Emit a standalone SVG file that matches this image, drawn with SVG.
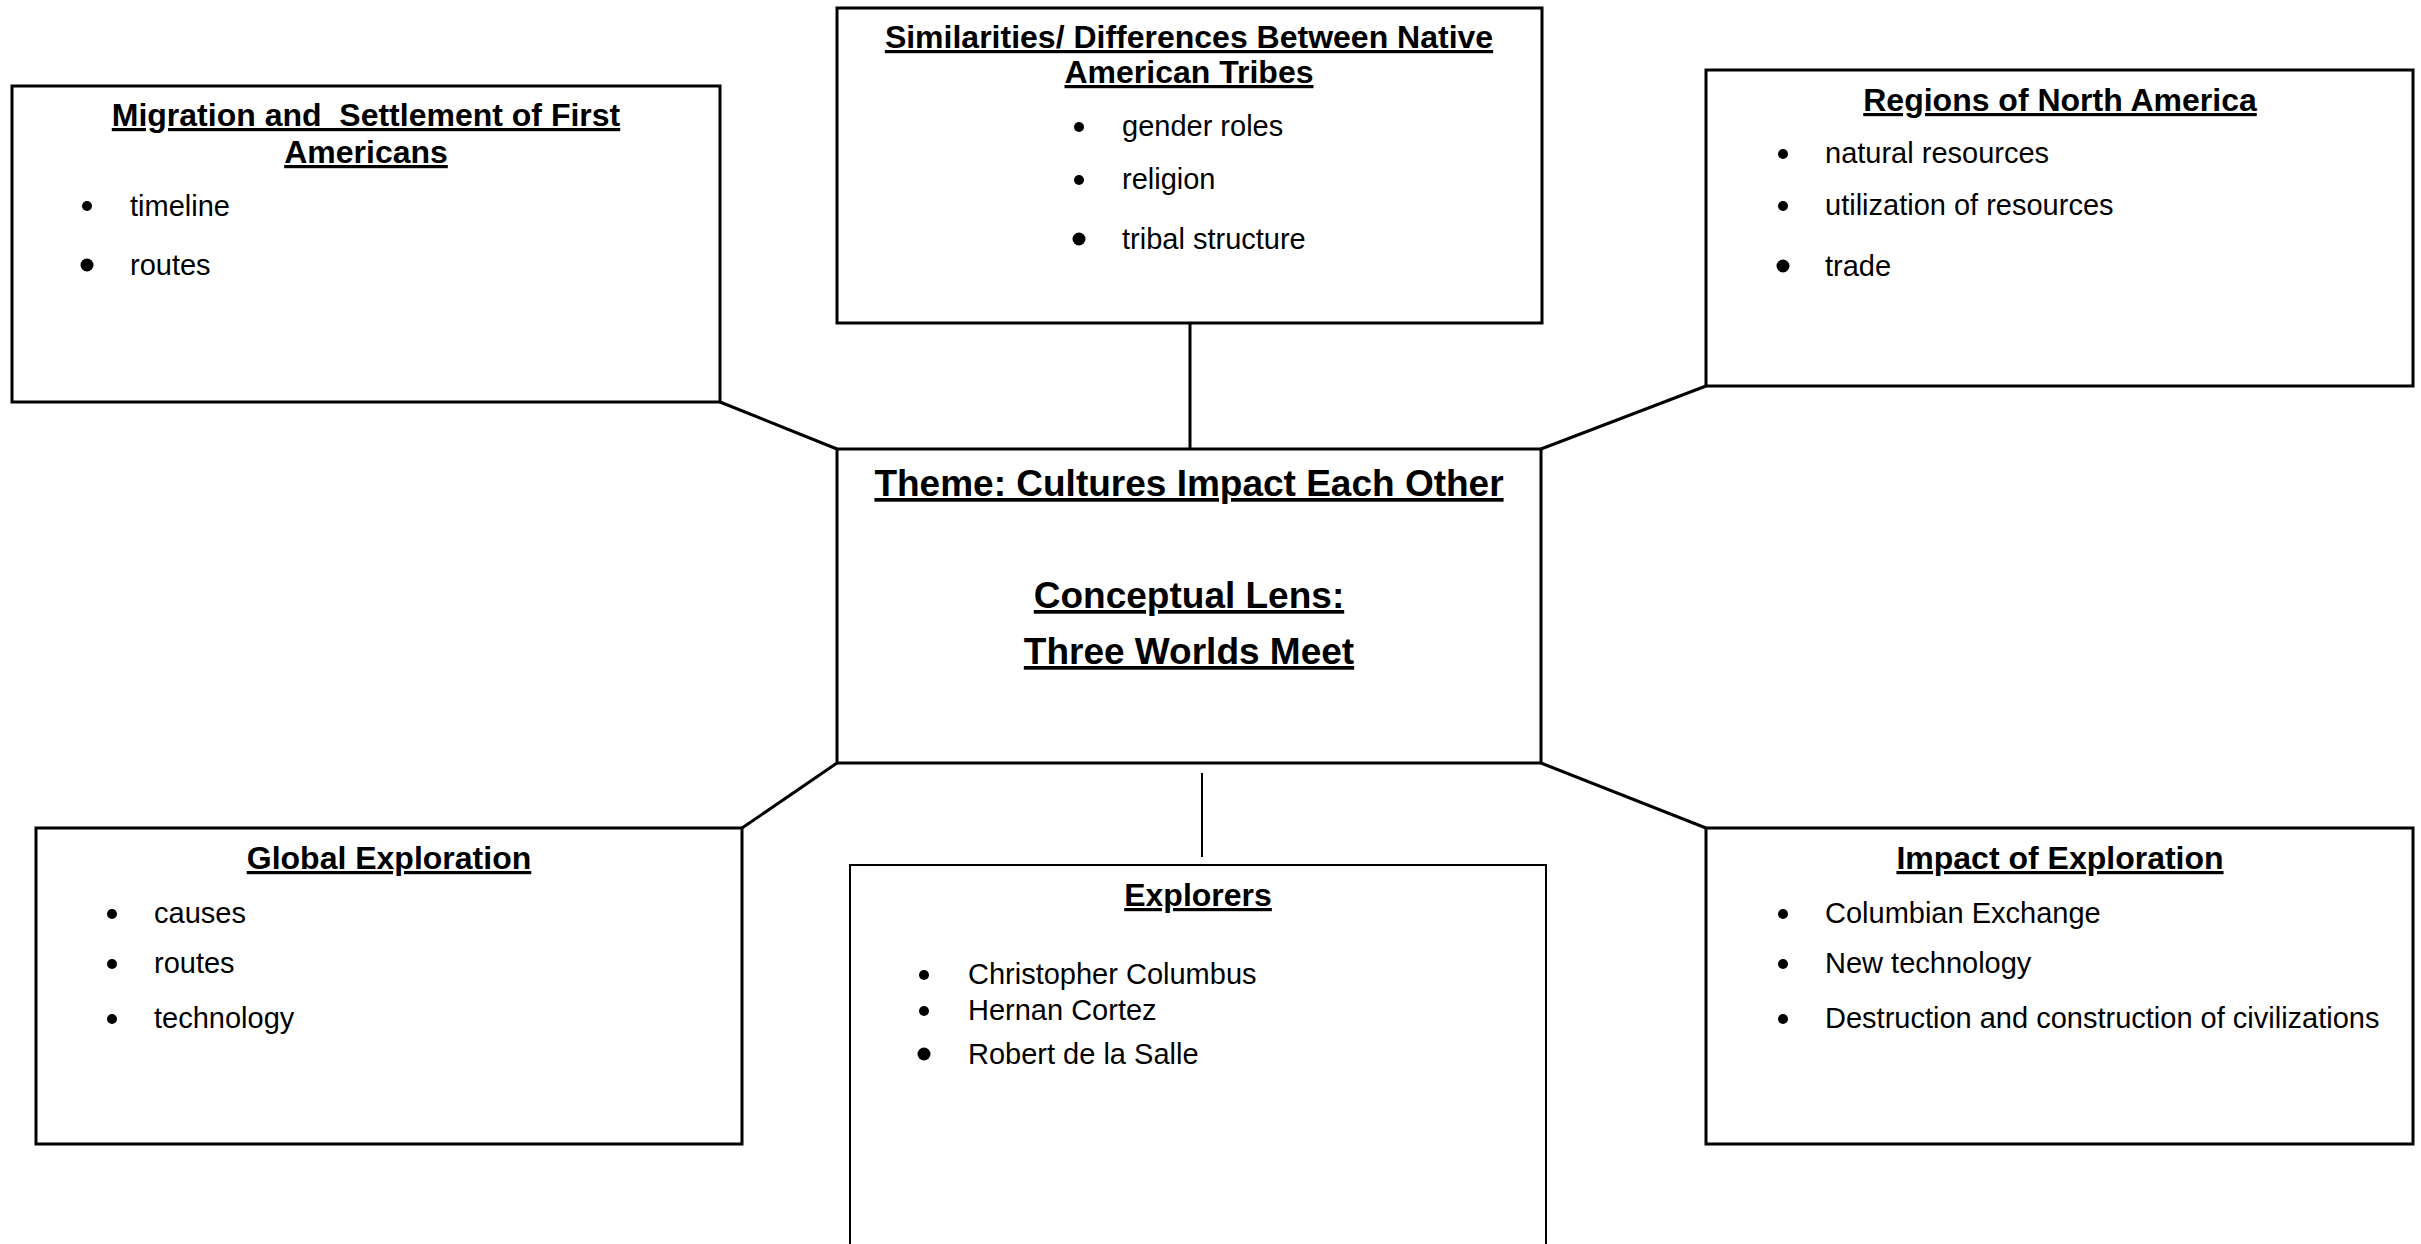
<svg xmlns="http://www.w3.org/2000/svg" width="2421" height="1244" viewBox="0 0 2421 1244">
  <style>
    .box { fill: #ffffff; stroke: #000000; stroke-width: 3; }
    .box-thin { fill: #ffffff; stroke: #000000; stroke-width: 2; }
    .link { stroke: #000000; stroke-width: 3; fill: none; }
    .link-thin { stroke: #000000; stroke-width: 2; fill: none; }
    text { white-space: pre; }
    .title { font-family: "Liberation Sans", Arial, sans-serif; font-weight: bold; font-size: 32px; text-anchor: middle; text-decoration: underline; fill: #000; }
    .theme { font-family: "Liberation Sans", Arial, sans-serif; font-weight: bold; font-size: 37px; text-anchor: middle; text-decoration: underline; fill: #000; }
    .item { font-family: "Liberation Sans", Arial, sans-serif; font-size: 29px; fill: #000; }
    .dot { fill: #000; }
  </style>
  <rect width="2421" height="1244" fill="#ffffff"/>

  <!-- connectors between the theme box and the topic boxes -->
  <g id="connectors">
    <line class="link" x1="720" y1="402" x2="837" y2="449"/>
    <line class="link" x1="1190" y1="323" x2="1190" y2="449"/>
    <line class="link" x1="1706" y1="386" x2="1541" y2="449"/>
    <line class="link" x1="837" y1="763" x2="742" y2="828"/>
    <line class="link" x1="1541" y1="763" x2="1706" y2="828"/>
    <line class="link-thin" x1="1202" y1="773" x2="1202" y2="857"/>
  </g>

  <g id="migration">
    <rect class="box" x="12" y="86" width="708" height="316"/>
    <text class="title" x="366" y="126" xml:space="preserve">Migration and  Settlement of First</text>
    <text class="title" x="366" y="163">Americans</text>
    <circle class="dot" cx="87" cy="206" r="5"/>
    <text class="item" x="130" y="216">timeline</text>
    <circle class="dot" cx="87" cy="265" r="6.5"/>
    <text class="item" x="130" y="275">routes</text>
  </g>

  <g id="similarities">
    <rect class="box" x="837" y="8" width="705" height="315"/>
    <text class="title" x="1189" y="48">Similarities/ Differences Between Native</text>
    <text class="title" x="1189" y="83">American Tribes</text>
    <circle class="dot" cx="1079" cy="127" r="5"/>
    <text class="item" x="1122" y="136">gender roles</text>
    <circle class="dot" cx="1079" cy="180" r="5"/>
    <text class="item" x="1122" y="189">religion</text>
    <circle class="dot" cx="1079" cy="239" r="6.5"/>
    <text class="item" x="1122" y="249">tribal structure</text>
  </g>

  <g id="regions">
    <rect class="box" x="1706" y="70" width="707" height="316"/>
    <text class="title" x="2060" y="111">Regions of North America</text>
    <circle class="dot" cx="1783" cy="154" r="5"/>
    <text class="item" x="1825" y="163">natural resources</text>
    <circle class="dot" cx="1783" cy="206" r="5"/>
    <text class="item" x="1825" y="215">utilization of resources</text>
    <circle class="dot" cx="1783" cy="266" r="6.5"/>
    <text class="item" x="1825" y="276">trade</text>
  </g>

  <g id="theme">
    <rect class="box" x="837" y="449" width="704" height="314"/>
    <text class="theme" x="1189" y="496">Theme: Cultures Impact Each Other</text>
    <text class="theme" x="1189" y="608">Conceptual Lens:</text>
    <text class="theme" x="1189" y="664">Three Worlds Meet</text>
  </g>

  <g id="global-exploration">
    <rect class="box" x="36" y="828" width="706" height="316"/>
    <text class="title" x="389" y="869">Global Exploration</text>
    <circle class="dot" cx="112" cy="914" r="5"/>
    <text class="item" x="154" y="923">causes</text>
    <circle class="dot" cx="112" cy="964" r="5"/>
    <text class="item" x="154" y="973">routes</text>
    <circle class="dot" cx="112" cy="1019" r="5"/>
    <text class="item" x="154" y="1028">technology</text>
  </g>

  <g id="explorers">
    <rect class="box-thin" x="850" y="865" width="696" height="400"/>
    <text class="title" x="1198" y="906">Explorers</text>
    <circle class="dot" cx="924" cy="975" r="5"/>
    <text class="item" x="968" y="984">Christopher Columbus</text>
    <circle class="dot" cx="924" cy="1011" r="5"/>
    <text class="item" x="968" y="1020">Hernan Cortez</text>
    <circle class="dot" cx="924" cy="1054" r="6.5"/>
    <text class="item" x="968" y="1064">Robert de la Salle</text>
  </g>

  <g id="impact">
    <rect class="box" x="1706" y="828" width="707" height="316"/>
    <text class="title" x="2060" y="869">Impact of Exploration</text>
    <circle class="dot" cx="1783" cy="914" r="5"/>
    <text class="item" x="1825" y="923">Columbian Exchange</text>
    <circle class="dot" cx="1783" cy="964" r="5"/>
    <text class="item" x="1825" y="973">New technology</text>
    <circle class="dot" cx="1783" cy="1019" r="5"/>
    <text class="item" x="1825" y="1028">Destruction and construction of civilizations</text>
  </g>
</svg>
